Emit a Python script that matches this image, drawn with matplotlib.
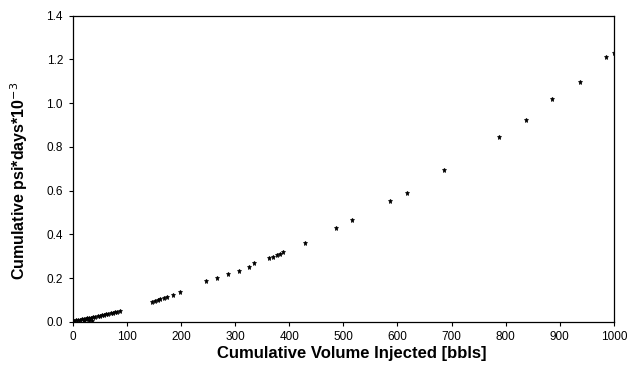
import matplotlib
matplotlib.use("Agg")
import matplotlib.pyplot as plt

plt.rcParams['font.family'] = ['Liberation Sans', 'DejaVu Sans']

# cumulative volume injected (bbls) and cumulative psi*days (x1e-3)
vol = [3, 6, 10, 14, 17, 20, 24, 27, 30, 34, 38, 42, 46, 50, 54, 58, 62, 66,
       70, 74, 78, 82, 88, 20, 30, 36,
       146, 152, 157, 162, 168, 174, 185, 198,
       246, 266, 287, 307, 326, 335, 363, 370, 377, 383, 389, 429,
       486, 516, 587, 617, 686, 787, 837, 886, 937, 986, 1000]
psi_days = [0.005, 0.006, 0.008, 0.010, 0.011, 0.012, 0.014, 0.015, 0.017,
            0.019, 0.021, 0.023, 0.025, 0.027, 0.029, 0.031, 0.034, 0.036,
            0.038, 0.040, 0.043, 0.045, 0.050, 0.003, 0.004, 0.002,
            0.090, 0.096, 0.101, 0.105, 0.110, 0.114, 0.122, 0.135,
            0.186, 0.201, 0.220, 0.232, 0.249, 0.267, 0.293, 0.298, 0.304,
            0.310, 0.317, 0.361,
            0.429, 0.465, 0.553, 0.590, 0.694, 0.843, 0.923, 1.017, 1.097,
            1.212, 1.228]

fig = plt.figure(figsize=(6.29, 3.69), dpi=100)
ax = fig.add_axes([0.1156, 0.128, 0.8604, 0.8295])

ax.plot(vol, psi_days, linestyle='none', marker='*', markersize=3.6,
        color='black', markeredgewidth=0.5)

ax.set_xlim(0, 1000)
ax.set_ylim(0, 1.4)
ax.set_xticks(range(0, 1001, 100))
ax.set_yticks([0.0, 0.2, 0.4, 0.6, 0.8, 1.0, 1.2, 1.4])
ax.set_yticklabels(['0.0', '0.2', '0.4', '0.6', '0.8', '1.0', '1.2', '1.4'])
ax.tick_params(direction='out', length=3, width=0.8, labelsize=8.5,
               colors='black', pad=4)

for s in ax.spines.values():
    s.set_linewidth(0.9)
    s.set_color('black')

fig.text(0.560, 0.043, 'Cumulative Volume Injected [bbls]', fontsize=12,
         fontweight='bold', ha='center', va='center')
fig.text(0.030, 0.509, 'Cumulative psi*days*10$^{-3}$', fontsize=11.5,
         fontweight='bold', ha='center', va='center', rotation=90)

fig.savefig('out.png', dpi=100)
